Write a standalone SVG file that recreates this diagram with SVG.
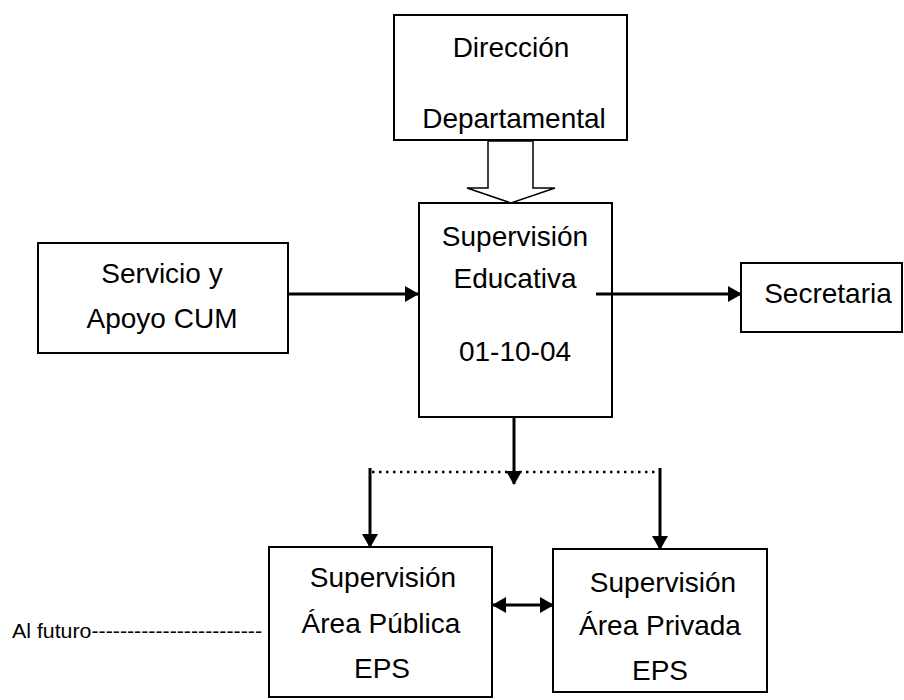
<svg xmlns="http://www.w3.org/2000/svg" width="904" height="700" viewBox="0 0 904 700">
<style>
.box{fill:#fff;stroke:#000;stroke-width:2}
.t{font-family:"Liberation Sans",Arial,sans-serif;font-size:28px;fill:#000;text-anchor:middle}
.c{stroke:#000;stroke-width:3;fill:none}
.dot{stroke:#000;stroke-width:2.5;stroke-dasharray:2.5 4.5;fill:none}
.small{font-family:"Liberation Sans",Arial,sans-serif;font-size:20px;fill:#000}
</style>
<defs>
<marker id="ah" markerWidth="14" markerHeight="16" refX="13" refY="8" orient="auto" markerUnits="userSpaceOnUse">
<path d="M0,0 L14,8 L0,16 Z" fill="#000"/>
</marker>
<marker id="ahs" markerWidth="14" markerHeight="16" refX="1" refY="8" orient="auto" markerUnits="userSpaceOnUse">
<path d="M14,0 L0,8 L14,16 Z" fill="#000"/>
</marker>
</defs>
<rect width="904" height="700" fill="#fff"/>
<g id="direccion">
<rect class="box" x="394" y="15" width="233" height="125"/>
<text class="t" x="511" y="57">Dirección</text>
<text class="t" x="514" y="128">Departamental</text>
</g>
<g id="supervision-educativa">
<rect class="box" x="419" y="203" width="193" height="214"/>
<text class="t" x="515" y="246">Supervisión</text>
<text class="t" x="515" y="288">Educativa</text>
<text class="t" x="515" y="361">01-10-04</text>
</g>
<g id="servicio">
<rect class="box" x="38" y="243" width="250" height="110"/>
<text class="t" x="162" y="283">Servicio y</text>
<text class="t" x="162" y="328">Apoyo CUM</text>
</g>
<g id="secretaria">
<rect class="box" x="741" y="263" width="161" height="69"/>
<text class="t" x="828" y="303">Secretaria</text>
</g>
<g id="area-publica">
<rect class="box" x="269" y="547" width="223" height="150"/>
<text class="t" x="383" y="587">Supervisión</text>
<text class="t" x="381" y="633">Área Pública</text>
<text class="t" x="382" y="678">EPS</text>
</g>
<g id="area-privada">
<rect class="box" x="553" y="549" width="214" height="143"/>
<text class="t" x="663" y="592">Supervisión</text>
<text class="t" x="660" y="635">Área Privada</text>
<text class="t" x="660" y="680">EPS</text>
</g>
<g id="al-futuro">
<text class="small" x="12" y="638" textLength="250" lengthAdjust="spacingAndGlyphs">Al futuro------------------------</text>
</g>
<g id="connectors">
<polygon points="488,141 533,141 533,188 555,188 511,203 467,188 488,188" fill="#fff" stroke="#000" stroke-width="1.5"/>
<line class="c" x1="289" y1="294" x2="418" y2="294" marker-end="url(#ah)"/>
<line class="c" x1="596" y1="294" x2="741" y2="294" marker-end="url(#ah)"/>
<line class="c" x1="514" y1="418" x2="514" y2="484" marker-end="url(#ah)"/>
<line class="dot" x1="372" y1="472" x2="660" y2="472"/>
<line class="c" x1="370" y1="468" x2="370" y2="547" marker-end="url(#ah)"/>
<line class="c" x1="660" y1="468" x2="660" y2="549" marker-end="url(#ah)"/>
<line class="c" x1="493" y1="605" x2="553" y2="605" marker-start="url(#ahs)" marker-end="url(#ah)"/>
</g>
</svg>
